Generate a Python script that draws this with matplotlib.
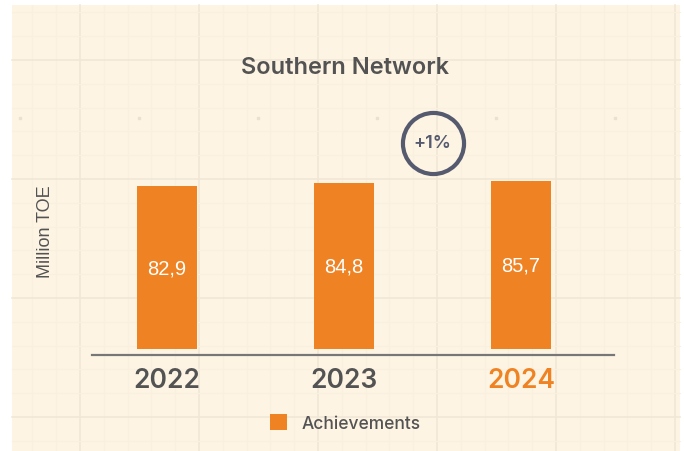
import matplotlib.pyplot as plt
from matplotlib.patches import Rectangle

# data
years = ["2022", "2023", "2024"]
values = [82.9, 84.8, 85.7]
value_labels = ["82,9", "84,8", "85,7"]
growth_label = "+1%"
series_name = "Achievements"

ORANGE = "#ef8323"
GREY = "#535353"
CREAM = "#fdf4e3"
RING = "#555a6f"

W, H = 684, 452
fig = plt.figure(figsize=(W / 100, H / 100), dpi=100, facecolor="white")

# decorative grid paper background (pixel coords)
bg = fig.add_axes([0, 0, 1, 1])
bg.set_xlim(0, W)
bg.set_ylim(H, 0)
bg.axis("off")
bg.add_patch(Rectangle((12, 6), 668, 446, facecolor=CREAM, edgecolor="none", zorder=0))
step = 119 / 5
for i in range(-5, 30):
    x = 80 + i * step
    if 12 < x < 680:
        major = i % 5 == 0
        bg.plot([x, x], [6, H], color="#f1e7d6" if major else "#f9f0df",
                lw=1.2 if major else 0.8, zorder=1)
for i in range(-5, 25):
    y = 61 + i * step
    if 6 < y < H:
        major = i % 5 == 0
        bg.plot([12, 680], [y, y], color="#f1e7d6" if major else "#f9f0df",
                lw=1.2 if major else 0.8, zorder=1)
for x in [20, 139, 258, 377, 496, 615]:
    bg.plot(x, 119, marker="s", ms=2, color="#ebe1d0", zorder=2)

# main chart axes
left, right, bottom, top = 92, 614, 356, 170
ax = fig.add_axes([left / W, 1 - bottom / H, (right - left) / W, (bottom - top) / H])
ax.set_facecolor("none")
xs = list(range(len(years)))
ax.bar(xs, values, width=0.335, color=ORANGE, zorder=3, label=series_name)
ax.set_xlim(-0.424, 2.525)
ax.set_ylim(-3.06, 91.8)
for x, v, lab in zip(xs, values, value_labels):
    ax.text(x, v / 2, lab, ha="center", va="center", color="white",
            fontsize=14.5, family="Liberation Sans", zorder=4)

for s in ["top", "right", "left"]:
    ax.spines[s].set_visible(False)
ax.spines["bottom"].set_color("#777777")
ax.spines["bottom"].set_linewidth(1.6)
ax.set_yticks([])
ax.set_xticks(xs)
ax.set_xticklabels(years, fontsize=19, family="Inter", fontweight="semibold")
ax.tick_params(axis="x", length=0, pad=9)
for t, c in zip(ax.get_xticklabels(), [GREY, GREY, ORANGE]):
    t.set_color(c)

# growth badge between 2023 and 2024
ax.plot(1.5, 105.3, marker="o", ms=44, mfc="none", mec=RING, mew=3, clip_on=False)
ax.text(1.5, 105.3, growth_label, ha="center", va="center", fontsize=13,
        fontweight="semibold", color=RING, family="Inter", clip_on=False)

fig.text(345 / W, 1 - 68 / H, "Southern Network", ha="center", va="center",
         fontsize=17, color=GREY, family="Inter", fontweight="semibold")
fig.text(46 / W, 1 - 232 / H, "Million TOE", rotation=90, ha="center", va="center",
         fontsize=13, color=GREY, family="Liberation Sans")

leg = fig.legend(loc="center", bbox_to_anchor=(345 / W, 1 - 424 / H), frameon=False,
                 handlelength=1.0, handleheight=1.0, handletextpad=0.8,
                 prop={"family": "Inter", "size": 12.5, "weight": "medium"})
for t in leg.get_texts():
    t.set_color(GREY)

fig.savefig("out.png", dpi=100, facecolor="white")
